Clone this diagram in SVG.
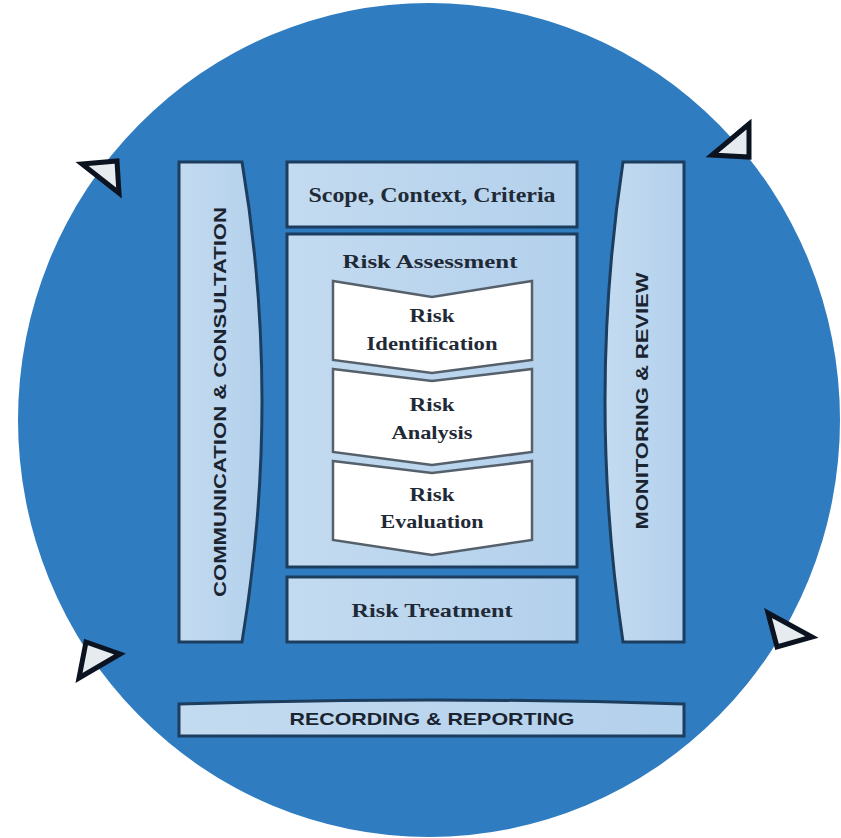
<svg xmlns="http://www.w3.org/2000/svg" width="841" height="838" viewBox="0 0 841 838">
<defs>
<style>
.box{fill:url(#g);stroke:#1c3d5e;stroke-width:3}
.chev{fill:#ffffff;stroke:#55606b;stroke-width:2.5}
.t{font-family:"Liberation Serif",serif;font-weight:bold;fill:#1f2a36;text-anchor:middle}
.c{font-family:"Liberation Sans Narrow","Liberation Sans",sans-serif;font-weight:bold;fill:#1a2430;text-anchor:middle}
.arr{fill:#e6ebf0;stroke:#0b1320;stroke-width:5;stroke-linejoin:miter}
</style>
<linearGradient id="g" x1="0" y1="0" x2="1" y2="0">
<stop offset="0" stop-color="#c3dbf0"/>
<stop offset="1" stop-color="#b3d0ec"/>
</linearGradient>
</defs>
<rect width="841" height="838" fill="#ffffff"/>
<ellipse cx="429" cy="420" rx="411" ry="417" fill="#2f7cc0"/>
<g id="arrows">
<polygon class="arr" points="82,164 117,161 119,193"/>
<polygon class="arr" points="749,124 712,155 749,157"/>
<polygon class="arr" points="86,642 120,654 79,678"/>
<polygon class="arr" points="768,613 812,637 777,647"/>
</g>
<g id="communication">
<path class="box" d="M179,162 H242 Q282,400 242,642 H179 Z"/>
<text class="c" transform="translate(226,402) rotate(-90)" font-size="17" textLength="390" lengthAdjust="spacingAndGlyphs">COMMUNICATION &amp; CONSULTATION</text>
</g>
<g id="monitoring">
<path class="box" d="M623,162 H684 V642 H623 Q587,400 623,162 Z"/>
<text class="c" transform="translate(648,401) rotate(-90)" font-size="17" textLength="257" lengthAdjust="spacingAndGlyphs">MONITORING &amp; REVIEW</text>
</g>
<g id="scope">
<rect class="box" x="287" y="162" width="290" height="65"/>
<text class="t" x="432" y="202" font-size="20" textLength="247" lengthAdjust="spacingAndGlyphs">Scope, Context, Criteria</text>
</g>
<g id="assessment">
<rect class="box" x="287" y="234" width="290" height="333"/>
<text class="t" x="430" y="268" font-size="19" textLength="175" lengthAdjust="spacingAndGlyphs">Risk Assessment</text>
</g>
<g id="identification">
<path class="chev" d="M333,281 L432,297 L532,281 V360 L432,373 L333,360 Z"/>
<text class="t" x="432" y="322" font-size="19" textLength="45" lengthAdjust="spacingAndGlyphs">Risk</text>
<text class="t" x="432" y="350" font-size="19" textLength="131" lengthAdjust="spacingAndGlyphs">Identification</text>
</g>
<g id="analysis">
<path class="chev" d="M333,369 L432,381 L532,369 V452 L432,465 L333,452 Z"/>
<text class="t" x="432" y="411" font-size="19" textLength="45" lengthAdjust="spacingAndGlyphs">Risk</text>
<text class="t" x="432" y="439" font-size="19" textLength="81" lengthAdjust="spacingAndGlyphs">Analysis</text>
</g>
<g id="evaluation">
<path class="chev" d="M333,461 L432,473 L532,461 V540 L432,555 L333,540 Z"/>
<text class="t" x="432" y="501" font-size="19" textLength="45" lengthAdjust="spacingAndGlyphs">Risk</text>
<text class="t" x="432" y="528" font-size="19" textLength="103" lengthAdjust="spacingAndGlyphs">Evaluation</text>
</g>
<g id="treatment">
<rect class="box" x="287" y="577" width="290" height="65"/>
<text class="t" x="432" y="617" font-size="19" textLength="161" lengthAdjust="spacingAndGlyphs">Risk Treatment</text>
</g>
<g id="recording">
<path class="box" d="M179,704 Q430,696 684,704 V736 H179 Z"/>
<text class="c" x="432" y="725" font-size="17" textLength="285" lengthAdjust="spacingAndGlyphs">RECORDING &amp; REPORTING</text>
</g>
<g id="connectors"></g>
</svg>
